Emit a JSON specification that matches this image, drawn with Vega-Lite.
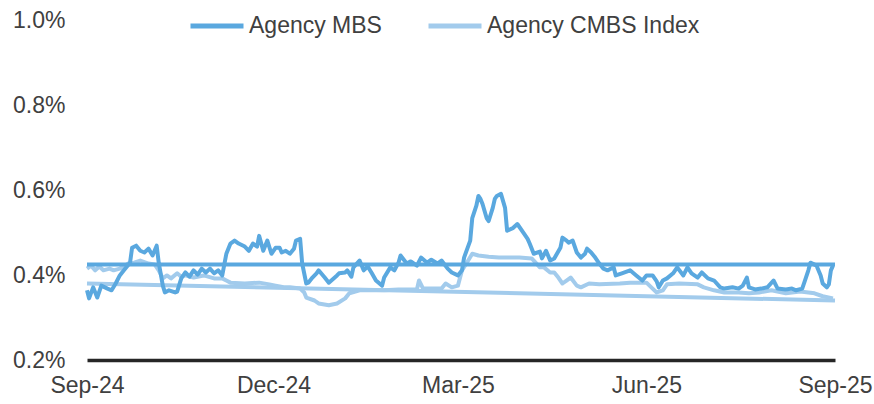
{
  "$schema": "https://vega.github.io/schema/vega-lite/v6.json",
  "width": 748,
  "height": 340,
  "autosize": {"type": "none"},
  "padding": {"left": 87, "top": 20, "right": 39, "bottom": 44},
  "background": "white",
  "config": {"view": {"stroke": null}, "font": "Liberation Sans"},
  "data": {"values": [
    {"series": "CMBS trend", "date": "2024-09-01", "value": 0.380},
    {"series": "CMBS trend", "date": "2025-09-01", "value": 0.340},
    {"series": "Agency CMBS Index", "date": "2024-09-01", "value": 0.415},
    {"series": "Agency CMBS Index", "date": "2024-09-03", "value": 0.422},
    {"series": "Agency CMBS Index", "date": "2024-09-05", "value": 0.411},
    {"series": "Agency CMBS Index", "date": "2024-09-07", "value": 0.420},
    {"series": "Agency CMBS Index", "date": "2024-09-09", "value": 0.411},
    {"series": "Agency CMBS Index", "date": "2024-09-12", "value": 0.415},
    {"series": "Agency CMBS Index", "date": "2024-09-14", "value": 0.411},
    {"series": "Agency CMBS Index", "date": "2024-09-17", "value": 0.415},
    {"series": "Agency CMBS Index", "date": "2024-09-19", "value": 0.420},
    {"series": "Agency CMBS Index", "date": "2024-09-21", "value": 0.427},
    {"series": "Agency CMBS Index", "date": "2024-09-24", "value": 0.429},
    {"series": "Agency CMBS Index", "date": "2024-09-27", "value": 0.434},
    {"series": "Agency CMBS Index", "date": "2024-10-01", "value": 0.427},
    {"series": "Agency CMBS Index", "date": "2024-10-04", "value": 0.425},
    {"series": "Agency CMBS Index", "date": "2024-10-06", "value": 0.411},
    {"series": "Agency CMBS Index", "date": "2024-10-08", "value": 0.392},
    {"series": "Agency CMBS Index", "date": "2024-10-10", "value": 0.399},
    {"series": "Agency CMBS Index", "date": "2024-10-12", "value": 0.392},
    {"series": "Agency CMBS Index", "date": "2024-10-15", "value": 0.404},
    {"series": "Agency CMBS Index", "date": "2024-10-17", "value": 0.396},
    {"series": "Agency CMBS Index", "date": "2024-10-19", "value": 0.399},
    {"series": "Agency CMBS Index", "date": "2024-10-23", "value": 0.394},
    {"series": "Agency CMBS Index", "date": "2024-10-28", "value": 0.399},
    {"series": "Agency CMBS Index", "date": "2024-11-02", "value": 0.392},
    {"series": "Agency CMBS Index", "date": "2024-11-06", "value": 0.392},
    {"series": "Agency CMBS Index", "date": "2024-11-08", "value": 0.387},
    {"series": "Agency CMBS Index", "date": "2024-11-10", "value": 0.382},
    {"series": "Agency CMBS Index", "date": "2024-11-17", "value": 0.380},
    {"series": "Agency CMBS Index", "date": "2024-11-24", "value": 0.382},
    {"series": "Agency CMBS Index", "date": "2024-11-29", "value": 0.378},
    {"series": "Agency CMBS Index", "date": "2024-12-02", "value": 0.375},
    {"series": "Agency CMBS Index", "date": "2024-12-06", "value": 0.371},
    {"series": "Agency CMBS Index", "date": "2024-12-09", "value": 0.371},
    {"series": "Agency CMBS Index", "date": "2024-12-14", "value": 0.368},
    {"series": "Agency CMBS Index", "date": "2024-12-16", "value": 0.359},
    {"series": "Agency CMBS Index", "date": "2024-12-17", "value": 0.347},
    {"series": "Agency CMBS Index", "date": "2024-12-21", "value": 0.340},
    {"series": "Agency CMBS Index", "date": "2024-12-23", "value": 0.333},
    {"series": "Agency CMBS Index", "date": "2024-12-28", "value": 0.329},
    {"series": "Agency CMBS Index", "date": "2025-01-01", "value": 0.333},
    {"series": "Agency CMBS Index", "date": "2025-01-05", "value": 0.345},
    {"series": "Agency CMBS Index", "date": "2025-01-07", "value": 0.357},
    {"series": "Agency CMBS Index", "date": "2025-01-12", "value": 0.364},
    {"series": "Agency CMBS Index", "date": "2025-01-24", "value": 0.364},
    {"series": "Agency CMBS Index", "date": "2025-01-31", "value": 0.366},
    {"series": "Agency CMBS Index", "date": "2025-02-09", "value": 0.366},
    {"series": "Agency CMBS Index", "date": "2025-02-10", "value": 0.387},
    {"series": "Agency CMBS Index", "date": "2025-02-12", "value": 0.368},
    {"series": "Agency CMBS Index", "date": "2025-02-21", "value": 0.368},
    {"series": "Agency CMBS Index", "date": "2025-02-23", "value": 0.380},
    {"series": "Agency CMBS Index", "date": "2025-02-26", "value": 0.371},
    {"series": "Agency CMBS Index", "date": "2025-03-01", "value": 0.375},
    {"series": "Agency CMBS Index", "date": "2025-03-03", "value": 0.411},
    {"series": "Agency CMBS Index", "date": "2025-03-06", "value": 0.434},
    {"series": "Agency CMBS Index", "date": "2025-03-08", "value": 0.450},
    {"series": "Agency CMBS Index", "date": "2025-03-11", "value": 0.446},
    {"series": "Agency CMBS Index", "date": "2025-03-16", "value": 0.443},
    {"series": "Agency CMBS Index", "date": "2025-03-21", "value": 0.441},
    {"series": "Agency CMBS Index", "date": "2025-03-31", "value": 0.441},
    {"series": "Agency CMBS Index", "date": "2025-04-06", "value": 0.439},
    {"series": "Agency CMBS Index", "date": "2025-04-07", "value": 0.434},
    {"series": "Agency CMBS Index", "date": "2025-04-10", "value": 0.418},
    {"series": "Agency CMBS Index", "date": "2025-04-12", "value": 0.418},
    {"series": "Agency CMBS Index", "date": "2025-04-15", "value": 0.406},
    {"series": "Agency CMBS Index", "date": "2025-04-17", "value": 0.406},
    {"series": "Agency CMBS Index", "date": "2025-04-19", "value": 0.394},
    {"series": "Agency CMBS Index", "date": "2025-04-21", "value": 0.380},
    {"series": "Agency CMBS Index", "date": "2025-04-23", "value": 0.387},
    {"series": "Agency CMBS Index", "date": "2025-04-25", "value": 0.394},
    {"series": "Agency CMBS Index", "date": "2025-04-28", "value": 0.375},
    {"series": "Agency CMBS Index", "date": "2025-04-30", "value": 0.371},
    {"series": "Agency CMBS Index", "date": "2025-05-04", "value": 0.380},
    {"series": "Agency CMBS Index", "date": "2025-05-09", "value": 0.378},
    {"series": "Agency CMBS Index", "date": "2025-05-19", "value": 0.380},
    {"series": "Agency CMBS Index", "date": "2025-05-24", "value": 0.382},
    {"series": "Agency CMBS Index", "date": "2025-06-01", "value": 0.382},
    {"series": "Agency CMBS Index", "date": "2025-06-04", "value": 0.368},
    {"series": "Agency CMBS Index", "date": "2025-06-06", "value": 0.359},
    {"series": "Agency CMBS Index", "date": "2025-06-09", "value": 0.364},
    {"series": "Agency CMBS Index", "date": "2025-06-11", "value": 0.378},
    {"series": "Agency CMBS Index", "date": "2025-06-17", "value": 0.380},
    {"series": "Agency CMBS Index", "date": "2025-06-26", "value": 0.378},
    {"series": "Agency CMBS Index", "date": "2025-06-29", "value": 0.371},
    {"series": "Agency CMBS Index", "date": "2025-07-04", "value": 0.364},
    {"series": "Agency CMBS Index", "date": "2025-07-09", "value": 0.359},
    {"series": "Agency CMBS Index", "date": "2025-07-16", "value": 0.359},
    {"series": "Agency CMBS Index", "date": "2025-07-21", "value": 0.357},
    {"series": "Agency CMBS Index", "date": "2025-07-26", "value": 0.359},
    {"series": "Agency CMBS Index", "date": "2025-08-01", "value": 0.364},
    {"series": "Agency CMBS Index", "date": "2025-08-08", "value": 0.357},
    {"series": "Agency CMBS Index", "date": "2025-08-15", "value": 0.361},
    {"series": "Agency CMBS Index", "date": "2025-08-22", "value": 0.357},
    {"series": "Agency CMBS Index", "date": "2025-08-26", "value": 0.350},
    {"series": "Agency CMBS Index", "date": "2025-08-31", "value": 0.345},
    {"series": "MBS flat", "date": "2024-09-01", "value": 0.425},
    {"series": "MBS flat", "date": "2025-09-01", "value": 0.425},
    {"series": "Agency MBS", "date": "2024-09-01", "value": 0.364},
    {"series": "Agency MBS", "date": "2024-09-02", "value": 0.345},
    {"series": "Agency MBS", "date": "2024-09-04", "value": 0.371},
    {"series": "Agency MBS", "date": "2024-09-06", "value": 0.347},
    {"series": "Agency MBS", "date": "2024-09-08", "value": 0.375},
    {"series": "Agency MBS", "date": "2024-09-11", "value": 0.368},
    {"series": "Agency MBS", "date": "2024-09-13", "value": 0.364},
    {"series": "Agency MBS", "date": "2024-09-15", "value": 0.380},
    {"series": "Agency MBS", "date": "2024-09-17", "value": 0.399},
    {"series": "Agency MBS", "date": "2024-09-19", "value": 0.411},
    {"series": "Agency MBS", "date": "2024-09-22", "value": 0.429},
    {"series": "Agency MBS", "date": "2024-09-23", "value": 0.464},
    {"series": "Agency MBS", "date": "2024-09-25", "value": 0.469},
    {"series": "Agency MBS", "date": "2024-09-27", "value": 0.457},
    {"series": "Agency MBS", "date": "2024-09-29", "value": 0.453},
    {"series": "Agency MBS", "date": "2024-10-01", "value": 0.462},
    {"series": "Agency MBS", "date": "2024-10-03", "value": 0.446},
    {"series": "Agency MBS", "date": "2024-10-05", "value": 0.469},
    {"series": "Agency MBS", "date": "2024-10-06", "value": 0.429},
    {"series": "Agency MBS", "date": "2024-10-08", "value": 0.375},
    {"series": "Agency MBS", "date": "2024-10-09", "value": 0.359},
    {"series": "Agency MBS", "date": "2024-10-11", "value": 0.364},
    {"series": "Agency MBS", "date": "2024-10-14", "value": 0.359},
    {"series": "Agency MBS", "date": "2024-10-15", "value": 0.361},
    {"series": "Agency MBS", "date": "2024-10-17", "value": 0.392},
    {"series": "Agency MBS", "date": "2024-10-19", "value": 0.406},
    {"series": "Agency MBS", "date": "2024-10-21", "value": 0.396},
    {"series": "Agency MBS", "date": "2024-10-23", "value": 0.411},
    {"series": "Agency MBS", "date": "2024-10-25", "value": 0.401},
    {"series": "Agency MBS", "date": "2024-10-27", "value": 0.415},
    {"series": "Agency MBS", "date": "2024-10-29", "value": 0.406},
    {"series": "Agency MBS", "date": "2024-10-31", "value": 0.415},
    {"series": "Agency MBS", "date": "2024-11-02", "value": 0.404},
    {"series": "Agency MBS", "date": "2024-11-04", "value": 0.411},
    {"series": "Agency MBS", "date": "2024-11-06", "value": 0.399},
    {"series": "Agency MBS", "date": "2024-11-08", "value": 0.450},
    {"series": "Agency MBS", "date": "2024-11-10", "value": 0.474},
    {"series": "Agency MBS", "date": "2024-11-12", "value": 0.481},
    {"series": "Agency MBS", "date": "2024-11-14", "value": 0.474},
    {"series": "Agency MBS", "date": "2024-11-17", "value": 0.467},
    {"series": "Agency MBS", "date": "2024-11-19", "value": 0.457},
    {"series": "Agency MBS", "date": "2024-11-21", "value": 0.474},
    {"series": "Agency MBS", "date": "2024-11-23", "value": 0.467},
    {"series": "Agency MBS", "date": "2024-11-24", "value": 0.492},
    {"series": "Agency MBS", "date": "2024-11-26", "value": 0.457},
    {"series": "Agency MBS", "date": "2024-11-28", "value": 0.481},
    {"series": "Agency MBS", "date": "2024-11-30", "value": 0.450},
    {"series": "Agency MBS", "date": "2024-12-02", "value": 0.464},
    {"series": "Agency MBS", "date": "2024-12-04", "value": 0.464},
    {"series": "Agency MBS", "date": "2024-12-05", "value": 0.453},
    {"series": "Agency MBS", "date": "2024-12-07", "value": 0.457},
    {"series": "Agency MBS", "date": "2024-12-09", "value": 0.450},
    {"series": "Agency MBS", "date": "2024-12-11", "value": 0.462},
    {"series": "Agency MBS", "date": "2024-12-12", "value": 0.481},
    {"series": "Agency MBS", "date": "2024-12-14", "value": 0.485},
    {"series": "Agency MBS", "date": "2024-12-15", "value": 0.427},
    {"series": "Agency MBS", "date": "2024-12-17", "value": 0.380},
    {"series": "Agency MBS", "date": "2024-12-18", "value": 0.382},
    {"series": "Agency MBS", "date": "2024-12-20", "value": 0.394},
    {"series": "Agency MBS", "date": "2024-12-22", "value": 0.404},
    {"series": "Agency MBS", "date": "2024-12-23", "value": 0.411},
    {"series": "Agency MBS", "date": "2024-12-26", "value": 0.394},
    {"series": "Agency MBS", "date": "2024-12-28", "value": 0.382},
    {"series": "Agency MBS", "date": "2025-01-01", "value": 0.399},
    {"series": "Agency MBS", "date": "2025-01-02", "value": 0.404},
    {"series": "Agency MBS", "date": "2025-01-05", "value": 0.406},
    {"series": "Agency MBS", "date": "2025-01-06", "value": 0.411},
    {"series": "Agency MBS", "date": "2025-01-08", "value": 0.396},
    {"series": "Agency MBS", "date": "2025-01-09", "value": 0.418},
    {"series": "Agency MBS", "date": "2025-01-12", "value": 0.434},
    {"series": "Agency MBS", "date": "2025-01-14", "value": 0.411},
    {"series": "Agency MBS", "date": "2025-01-16", "value": 0.420},
    {"series": "Agency MBS", "date": "2025-01-18", "value": 0.404},
    {"series": "Agency MBS", "date": "2025-01-20", "value": 0.387},
    {"series": "Agency MBS", "date": "2025-01-23", "value": 0.375},
    {"series": "Agency MBS", "date": "2025-01-24", "value": 0.394},
    {"series": "Agency MBS", "date": "2025-01-27", "value": 0.418},
    {"series": "Agency MBS", "date": "2025-01-29", "value": 0.411},
    {"series": "Agency MBS", "date": "2025-01-31", "value": 0.429},
    {"series": "Agency MBS", "date": "2025-02-01", "value": 0.446},
    {"series": "Agency MBS", "date": "2025-02-04", "value": 0.427},
    {"series": "Agency MBS", "date": "2025-02-06", "value": 0.432},
    {"series": "Agency MBS", "date": "2025-02-09", "value": 0.422},
    {"series": "Agency MBS", "date": "2025-02-11", "value": 0.441},
    {"series": "Agency MBS", "date": "2025-02-14", "value": 0.429},
    {"series": "Agency MBS", "date": "2025-02-16", "value": 0.436},
    {"series": "Agency MBS", "date": "2025-02-19", "value": 0.427},
    {"series": "Agency MBS", "date": "2025-02-21", "value": 0.434},
    {"series": "Agency MBS", "date": "2025-02-24", "value": 0.415},
    {"series": "Agency MBS", "date": "2025-02-26", "value": 0.406},
    {"series": "Agency MBS", "date": "2025-03-01", "value": 0.399},
    {"series": "Agency MBS", "date": "2025-03-03", "value": 0.411},
    {"series": "Agency MBS", "date": "2025-03-04", "value": 0.441},
    {"series": "Agency MBS", "date": "2025-03-07", "value": 0.481},
    {"series": "Agency MBS", "date": "2025-03-08", "value": 0.534},
    {"series": "Agency MBS", "date": "2025-03-10", "value": 0.563},
    {"series": "Agency MBS", "date": "2025-03-11", "value": 0.586},
    {"series": "Agency MBS", "date": "2025-03-12", "value": 0.579},
    {"series": "Agency MBS", "date": "2025-03-13", "value": 0.567},
    {"series": "Agency MBS", "date": "2025-03-15", "value": 0.534},
    {"series": "Agency MBS", "date": "2025-03-16", "value": 0.527},
    {"series": "Agency MBS", "date": "2025-03-18", "value": 0.558},
    {"series": "Agency MBS", "date": "2025-03-19", "value": 0.579},
    {"series": "Agency MBS", "date": "2025-03-20", "value": 0.586},
    {"series": "Agency MBS", "date": "2025-03-22", "value": 0.591},
    {"series": "Agency MBS", "date": "2025-03-24", "value": 0.558},
    {"series": "Agency MBS", "date": "2025-03-25", "value": 0.504},
    {"series": "Agency MBS", "date": "2025-03-28", "value": 0.511},
    {"series": "Agency MBS", "date": "2025-03-30", "value": 0.520},
    {"series": "Agency MBS", "date": "2025-04-02", "value": 0.499},
    {"series": "Agency MBS", "date": "2025-04-04", "value": 0.485},
    {"series": "Agency MBS", "date": "2025-04-05", "value": 0.474},
    {"series": "Agency MBS", "date": "2025-04-07", "value": 0.450},
    {"series": "Agency MBS", "date": "2025-04-10", "value": 0.455},
    {"series": "Agency MBS", "date": "2025-04-11", "value": 0.439},
    {"series": "Agency MBS", "date": "2025-04-13", "value": 0.457},
    {"series": "Agency MBS", "date": "2025-04-15", "value": 0.434},
    {"series": "Agency MBS", "date": "2025-04-17", "value": 0.439},
    {"series": "Agency MBS", "date": "2025-04-20", "value": 0.464},
    {"series": "Agency MBS", "date": "2025-04-21", "value": 0.488},
    {"series": "Agency MBS", "date": "2025-04-23", "value": 0.481},
    {"series": "Agency MBS", "date": "2025-04-24", "value": 0.476},
    {"series": "Agency MBS", "date": "2025-04-26", "value": 0.481},
    {"series": "Agency MBS", "date": "2025-04-28", "value": 0.453},
    {"series": "Agency MBS", "date": "2025-04-30", "value": 0.441},
    {"series": "Agency MBS", "date": "2025-05-02", "value": 0.450},
    {"series": "Agency MBS", "date": "2025-05-03", "value": 0.462},
    {"series": "Agency MBS", "date": "2025-05-05", "value": 0.453},
    {"series": "Agency MBS", "date": "2025-05-07", "value": 0.441},
    {"series": "Agency MBS", "date": "2025-05-09", "value": 0.427},
    {"series": "Agency MBS", "date": "2025-05-11", "value": 0.415},
    {"series": "Agency MBS", "date": "2025-05-13", "value": 0.411},
    {"series": "Agency MBS", "date": "2025-05-16", "value": 0.418},
    {"series": "Agency MBS", "date": "2025-05-17", "value": 0.399},
    {"series": "Agency MBS", "date": "2025-05-20", "value": 0.404},
    {"series": "Agency MBS", "date": "2025-05-24", "value": 0.411},
    {"series": "Agency MBS", "date": "2025-05-27", "value": 0.399},
    {"series": "Agency MBS", "date": "2025-05-30", "value": 0.387},
    {"series": "Agency MBS", "date": "2025-06-01", "value": 0.399},
    {"series": "Agency MBS", "date": "2025-06-04", "value": 0.399},
    {"series": "Agency MBS", "date": "2025-06-06", "value": 0.385},
    {"series": "Agency MBS", "date": "2025-06-07", "value": 0.371},
    {"series": "Agency MBS", "date": "2025-06-09", "value": 0.387},
    {"series": "Agency MBS", "date": "2025-06-11", "value": 0.392},
    {"series": "Agency MBS", "date": "2025-06-14", "value": 0.404},
    {"series": "Agency MBS", "date": "2025-06-16", "value": 0.418},
    {"series": "Agency MBS", "date": "2025-06-19", "value": 0.399},
    {"series": "Agency MBS", "date": "2025-06-21", "value": 0.418},
    {"series": "Agency MBS", "date": "2025-06-23", "value": 0.404},
    {"series": "Agency MBS", "date": "2025-06-26", "value": 0.394},
    {"series": "Agency MBS", "date": "2025-06-28", "value": 0.406},
    {"series": "Agency MBS", "date": "2025-07-01", "value": 0.392},
    {"series": "Agency MBS", "date": "2025-07-04", "value": 0.387},
    {"series": "Agency MBS", "date": "2025-07-07", "value": 0.371},
    {"series": "Agency MBS", "date": "2025-07-09", "value": 0.368},
    {"series": "Agency MBS", "date": "2025-07-13", "value": 0.371},
    {"series": "Agency MBS", "date": "2025-07-16", "value": 0.368},
    {"series": "Agency MBS", "date": "2025-07-18", "value": 0.375},
    {"series": "Agency MBS", "date": "2025-07-20", "value": 0.394},
    {"series": "Agency MBS", "date": "2025-07-21", "value": 0.371},
    {"series": "Agency MBS", "date": "2025-07-24", "value": 0.366},
    {"series": "Agency MBS", "date": "2025-07-27", "value": 0.368},
    {"series": "Agency MBS", "date": "2025-07-30", "value": 0.371},
    {"series": "Agency MBS", "date": "2025-08-02", "value": 0.387},
    {"series": "Agency MBS", "date": "2025-08-04", "value": 0.368},
    {"series": "Agency MBS", "date": "2025-08-08", "value": 0.366},
    {"series": "Agency MBS", "date": "2025-08-11", "value": 0.368},
    {"series": "Agency MBS", "date": "2025-08-13", "value": 0.364},
    {"series": "Agency MBS", "date": "2025-08-16", "value": 0.368},
    {"series": "Agency MBS", "date": "2025-08-17", "value": 0.382},
    {"series": "Agency MBS", "date": "2025-08-19", "value": 0.411},
    {"series": "Agency MBS", "date": "2025-08-20", "value": 0.429},
    {"series": "Agency MBS", "date": "2025-08-21", "value": 0.427},
    {"series": "Agency MBS", "date": "2025-08-23", "value": 0.422},
    {"series": "Agency MBS", "date": "2025-08-25", "value": 0.399},
    {"series": "Agency MBS", "date": "2025-08-26", "value": 0.380},
    {"series": "Agency MBS", "date": "2025-08-28", "value": 0.371},
    {"series": "Agency MBS", "date": "2025-08-29", "value": 0.378},
    {"series": "Agency MBS", "date": "2025-08-30", "value": 0.411},
    {"series": "Agency MBS", "date": "2025-08-31", "value": 0.422}
  ]},
  "mark": {"type": "line", "strokeWidth": 4, "strokeJoin": "round", "strokeCap": "butt"},
  "encoding": {
    "x": {
      "field": "date", "type": "temporal",
      "scale": {"type": "utc", "domain": [{"year": 2024, "month": 9, "date": 1, "utc": true}, {"year": 2025, "month": 9, "date": 1, "utc": true}]},
      "axis": {
        "title": null, "grid": false, "ticks": false,
        "values": [{"year": 2024, "month": 9, "date": 1, "utc": true}, {"year": 2024, "month": 12, "date": 1, "utc": true}, {"year": 2025, "month": 3, "date": 1, "utc": true}, {"year": 2025, "month": 6, "date": 1, "utc": true}, {"year": 2025, "month": 9, "date": 1, "utc": true}],
        "labelExpr": "utcFormat(datum.value, '%b-%y')",
        "domainColor": "#262626", "domainWidth": 3.5,
        "labelFontSize": 23, "labelColor": "#404040", "labelPadding": 14,
        "labelFont": "Liberation Sans", "labelOverlap": false, "labelFlush": false
      }
    },
    "y": {
      "field": "value", "type": "quantitative",
      "scale": {"domain": [0.2, 1.0], "nice": false, "zero": false},
      "axis": {
        "title": null, "grid": false, "ticks": false, "domain": false,
        "values": [0.2, 0.4, 0.6, 0.8, 1.0],
        "labelExpr": "format(datum.value, '.1f') + '%'",
        "labelFontSize": 23, "labelColor": "#404040", "labelPadding": 22,
        "labelFont": "Liberation Sans"
      }
    },
    "color": {
      "field": "series", "type": "nominal",
      "scale": {"domain": ["Agency MBS", "Agency CMBS Index", "MBS flat", "CMBS trend"], "range": ["#5AA8DF", "#A2CBEC", "#5AA8DF", "#A2CBEC"]},
      "legend": {
        "orient": "none", "legendX": 101, "legendY": -23, "direction": "horizontal",
        "title": null, "values": ["Agency MBS", "Agency CMBS Index"],
        "symbolType": "stroke", "symbolStrokeWidth": 5, "symbolSize": 2809,
        "labelFontSize": 23, "labelColor": "#404040", "labelOffset": 3, "labelLimit": 0,
        "labelFont": "Liberation Sans", "columnPadding": 36
      }
    }
  }
}
